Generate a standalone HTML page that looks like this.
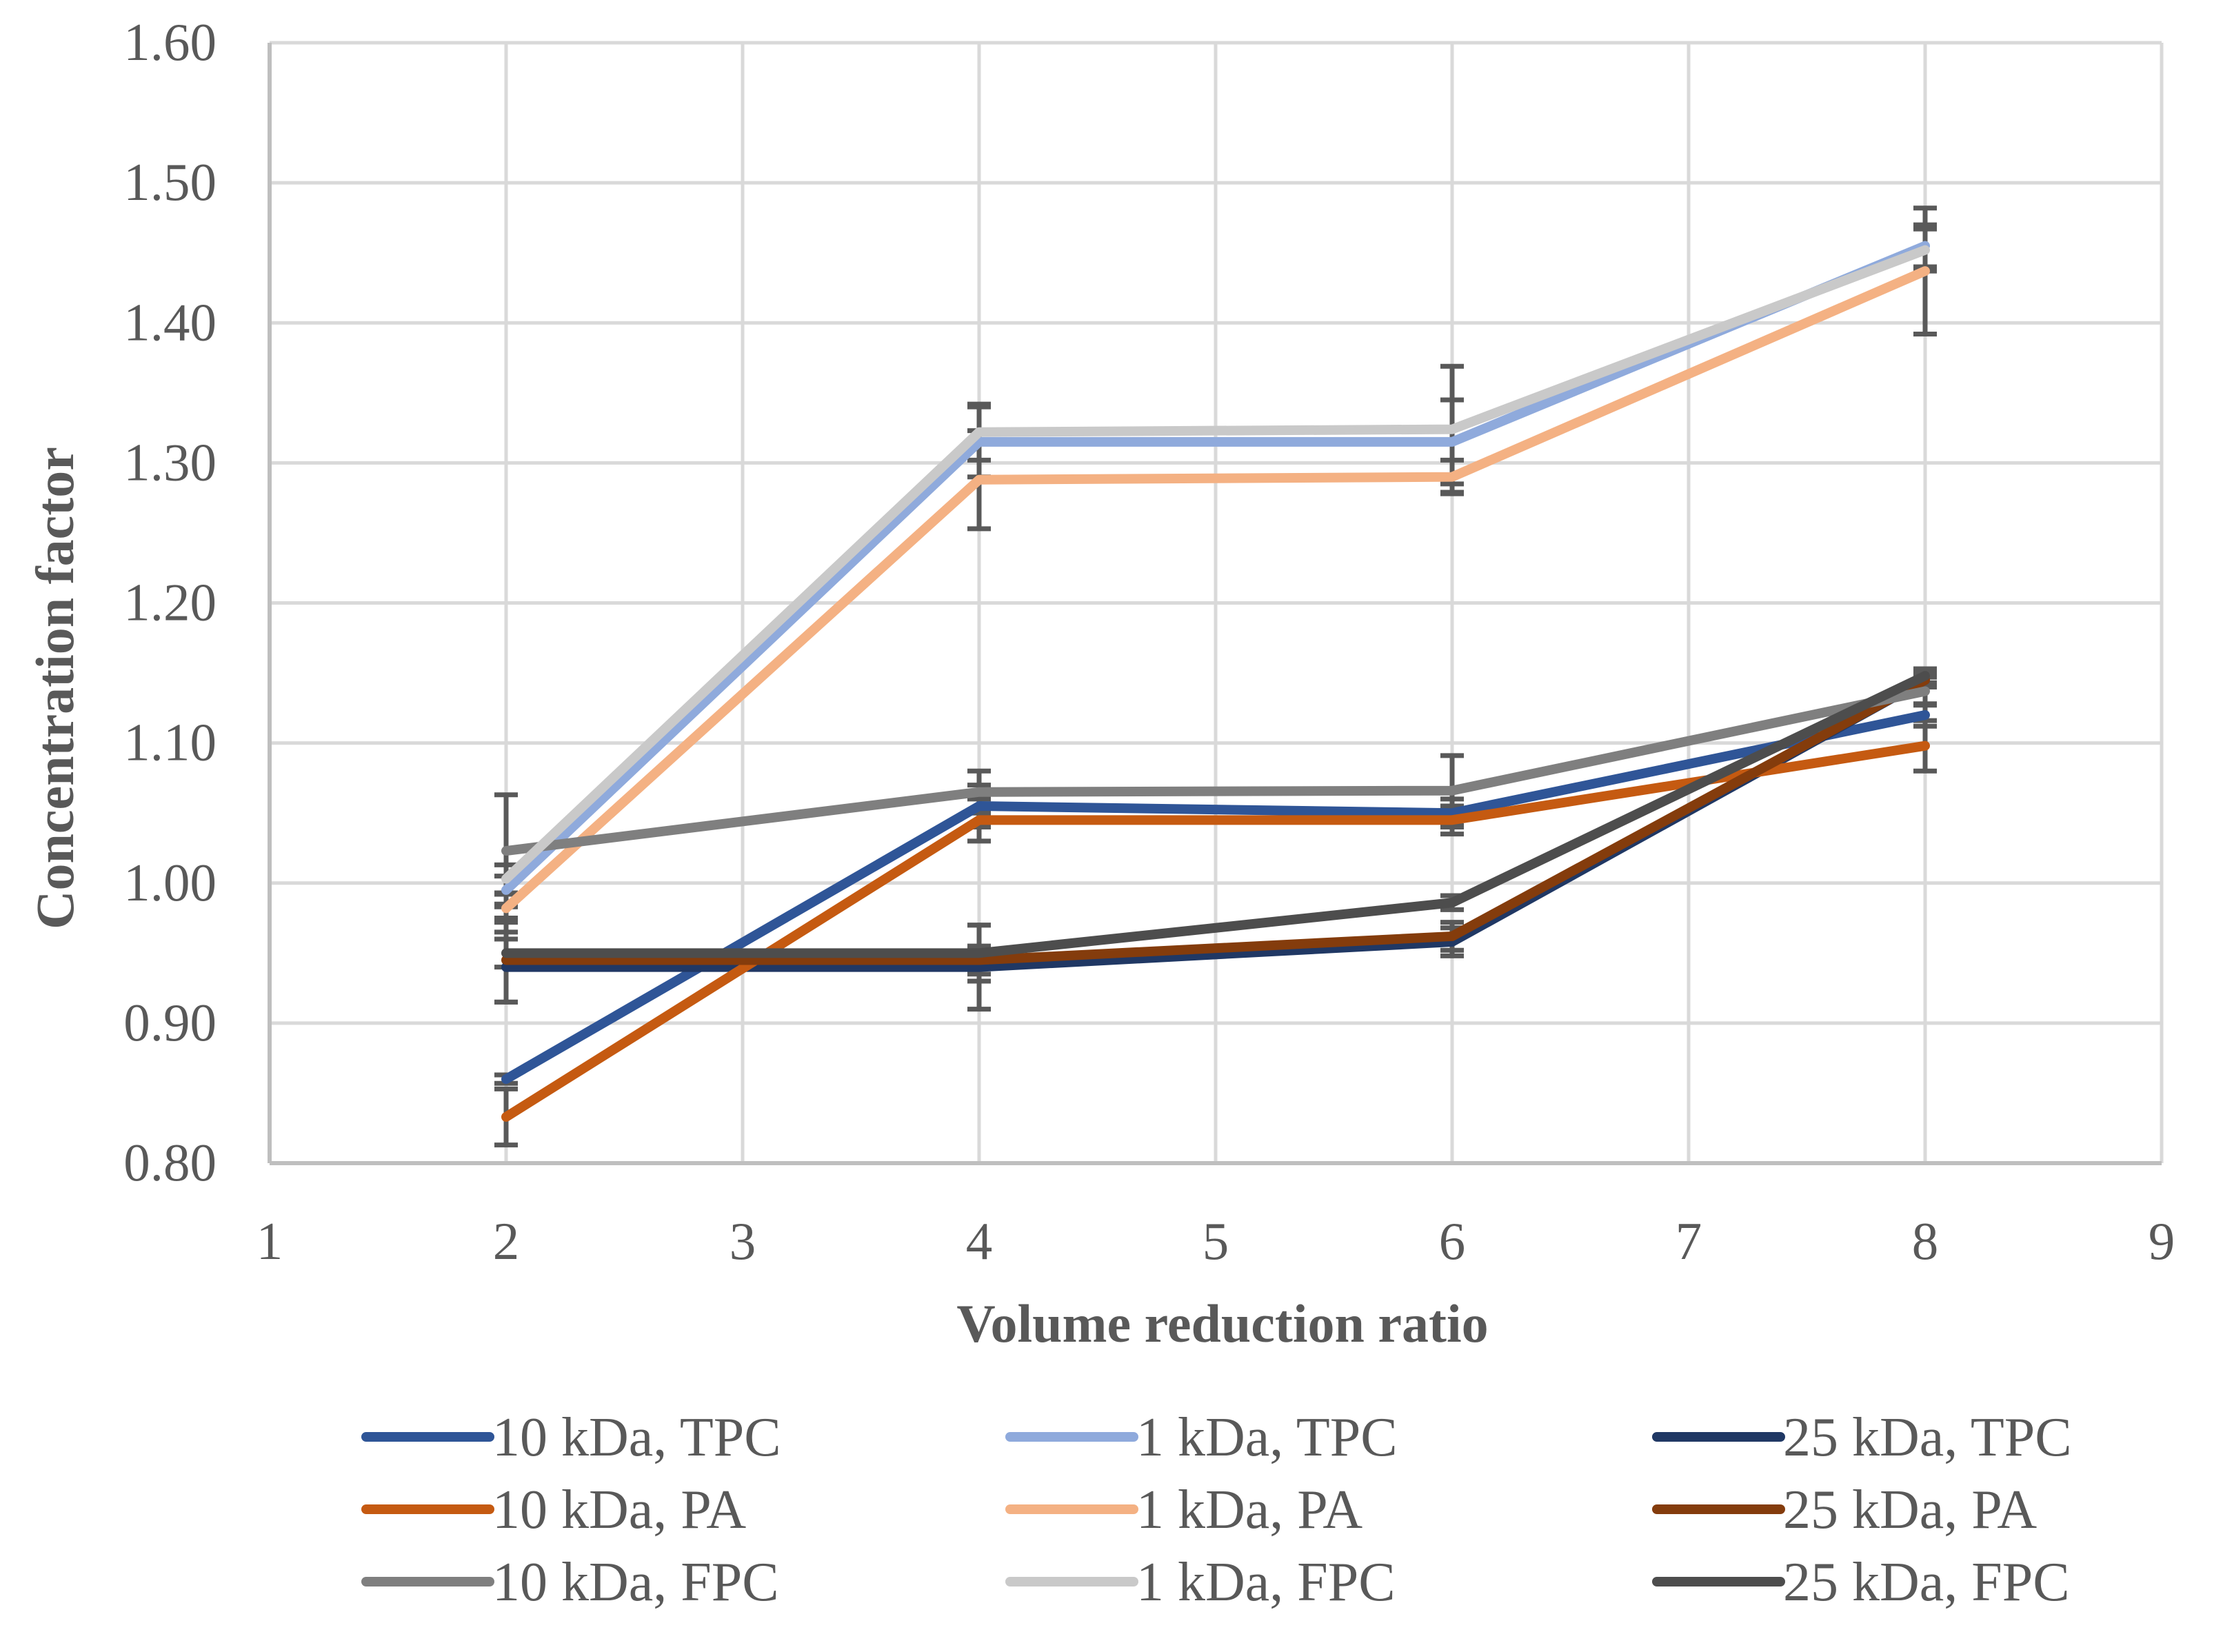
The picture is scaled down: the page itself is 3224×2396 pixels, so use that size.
<!DOCTYPE html>
<html><head><meta charset="utf-8"><style>
html,body{margin:0;padding:0;background:#fff;}
svg{display:block;font-family:"Liberation Serif",serif;}
</style></head><body>
<svg id="chart" width="3224" height="2396" viewBox="0 0 3224 2396" xmlns="http://www.w3.org/2000/svg">
<g id="grid"></g>
<g id="axes"></g>
<g id="errs"></g>
<g id="series"></g>
<text x="1773" y="1946" text-anchor="middle" font-size="78" font-weight="bold" fill="#595959">Volume reduction ratio</text>
<text transform="translate(106,998) rotate(-90)" text-anchor="middle" font-size="78" font-weight="bold" fill="#595959">Concentration factor</text>
<g id="legend"></g>
</svg>
<script>
const xCats = [2, 4, 6, 8];
const xTicks = [1,2,3,4,5,6,7,8,9];
const yTicks = [0.8,0.9,1.0,1.1,1.2,1.3,1.4,1.5,1.6];
const seriesNames = ["10 kDa, TPC","1 kDa, TPC","25 kDa, TPC","10 kDa, PA","1 kDa, PA","25 kDa, PA","10 kDa, FPC","1 kDa, FPC","25 kDa, FPC"];
const seriesColors = ["#2f5597","#8faadc","#203864","#c55a11","#f4b183","#843c0c","#7f7f7f","#c9c9c9","#4d4d4d"];
const s10TPC = [0.860,1.055,1.050,1.120];
const s1TPC  = [0.995,1.315,1.315,1.455];
const s25TPC = [0.940,0.940,0.958,1.145];
const s10PA  = [0.833,1.045,1.045,1.098];
const s1PA   = [0.982,1.288,1.290,1.437];
const s25PA  = [0.945,0.945,0.962,1.145];
const s10FPC = [1.023,1.065,1.066,1.137];
const s1FPC  = [1.003,1.322,1.324,1.452];
const s25FPC = [0.950,0.950,0.986,1.148];
const e10TPC = [0.003,0.015,0.010,0.008];
const e1TPC  = [0.010,0.025,0.030,0.015];
const e25TPC = [0.025,0.030,0.010,0.005];
const e10PA  = [0.020,0.015,0.010,0.018];
const e1PA   = [0.010,0.035,0.012,0.045];
const e25PA  = [0.030,0.010,0.010,0.005];
const e10FPC = [0.040,0.015,0.025,0.010];
const e1FPC  = [0.010,0.020,0.045,0.015];
const e25FPC = [0.010,0.020,0.005,0.005];
const seriesVals = [s10TPC,s1TPC,s25TPC,s10PA,s1PA,s25PA,s10FPC,s1FPC,s25FPC];
const seriesErrs = [e10TPC,e1TPC,e25TPC,e10PA,e1PA,e25PA,e10FPC,e1FPC,e25FPC];

const NS="http://www.w3.org/2000/svg";
const L=391,R=3135,T=62,B=1687;
const X=v=>L+(v-1)/8*(R-L);
const Y=v=>B-(v-0.8)/0.8*(B-T);
function mk(tag,attrs,parent){const e=document.createElementNS(NS,tag);for(const k in attrs)e.setAttribute(k,attrs[k]);parent.appendChild(e);return e;}
const grid=document.getElementById('grid'),axes=document.getElementById('axes'),errs=document.getElementById('errs'),ser=document.getElementById('series'),leg=document.getElementById('legend');

yTicks.forEach(v=>{
  const g=mk('line',{x1:L,x2:R,y1:Y(v),y2:Y(v),stroke:'#d9d9d9','stroke-width':5},grid);
  
  
  const t=mk('text',{x:314,y:Y(v)+25,'text-anchor':'end','font-size':77,fill:'#595959'},axes);
  t.textContent=v.toFixed(2);
  
  
});
xTicks.forEach(v=>{
  const g=mk('line',{x1:X(v),x2:X(v),y1:T,y2:B,stroke:'#d9d9d9','stroke-width':5},grid);
  
  
  const t=mk('text',{x:X(v),y:1826,'text-anchor':'middle','font-size':77,fill:'#595959'},axes);
  t.textContent=String(v);
  
  
});
const ax=mk('line',{x1:L,x2:R,y1:B,y2:B,stroke:'#bfbfbf','stroke-width':6},axes);


const ay=mk('line',{x1:L,x2:L,y1:T,y2:B,stroke:'#bfbfbf','stroke-width':6},axes);



seriesVals.forEach((vals,si)=>{
  vals.forEach((v,i)=>{
    const e=seriesErrs[si][i],x=X(xCats[i]);
    const p=mk('path',{d:`M${x},${Y(v-e)}V${Y(v+e)}M${x-17},${Y(v-e)}h34M${x-17},${Y(v+e)}h34`,stroke:'#595959','stroke-width':7,fill:'none'},errs);
    
    
  });
});
seriesVals.forEach((vals,si)=>{
  const pts=vals.map((v,i)=>X(xCats[i])+','+Y(v)).join(' ');
  const pl=mk('polyline',{points:pts,fill:'none',stroke:seriesColors[si],'stroke-width':14,'stroke-linecap':'round','stroke-linejoin':'round'},ser);
  
  
});
const colX=[531,1465,2403],rowY=[2084,2189,2294];
const order=[0,3,6,1,4,7,2,5,8];
seriesNames.forEach((n,i)=>{
  const idx=order.indexOf(i);
  const cc=Math.floor(idx/3),rr=idx%3;
  const g=mk('g',{},leg);
  
  
  mk('line',{x1:colX[cc],x2:colX[cc]+179,y1:rowY[rr],y2:rowY[rr],stroke:seriesColors[i],'stroke-width':14,'stroke-linecap':'round'},g);
  const t=mk('text',{x:colX[cc]+183,y:rowY[rr]+27,'font-size':80,fill:'#595959'},g);
  t.textContent=n;
});
</script>
</body></html>
